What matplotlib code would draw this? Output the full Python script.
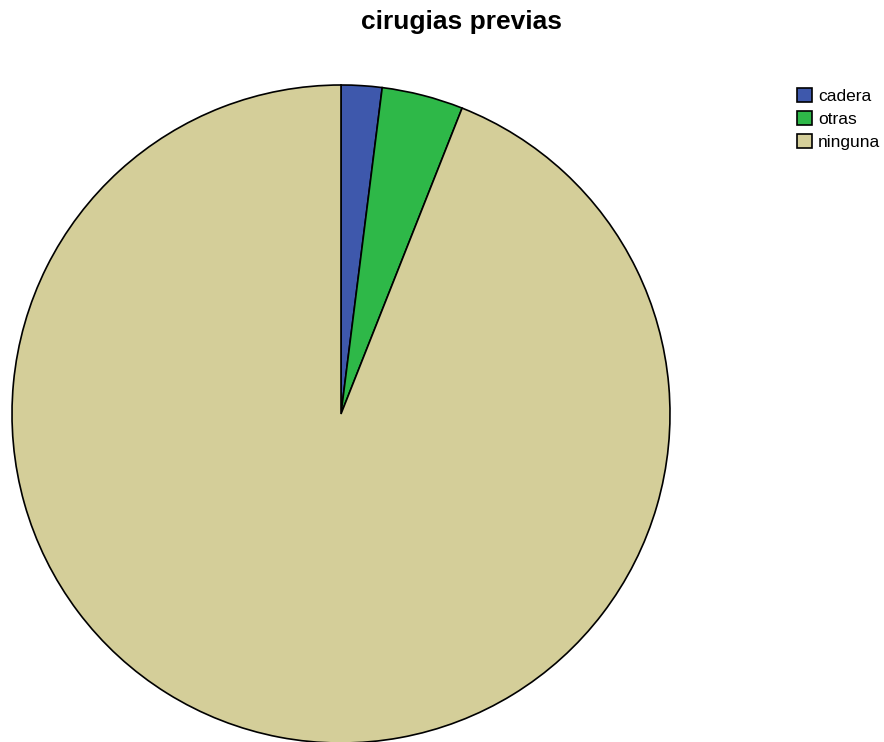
import matplotlib.pyplot as plt
from matplotlib.patches import Patch

plt.rcParams['font.family'] = ['Liberation Sans', 'DejaVu Sans']

# Previous surgeries, counts per category
labels = ['cadera', 'otras', 'ninguna']
counts = [1, 2, 47]
colors = ['#3E58AC', '#2EB848', '#D4CE99']

fig = plt.figure(figsize=(8.84, 7.42), dpi=100)
ax = fig.add_axes([12 / 884, -1 / 742, 658 / 884, 658 / 742])

ax.pie(counts, colors=colors, startangle=90, counterclock=False,
       wedgeprops=dict(edgecolor='black', linewidth=1.2), radius=1.0)
ax.set_xlim(-1.0, 1.0)
ax.set_ylim(-1.0, 1.0)
ax.set_aspect('equal')
ax.axis('off')

fig.text(461 / 884, 1 - 22 / 742, 'cirugias previas', ha='center', va='center',
         fontsize=19, fontweight='bold')

handles = [Patch(facecolor=c, edgecolor='black', linewidth=1.2) for c in colors]
fig.legend(handles, labels, loc='upper left', bbox_to_anchor=(797 / 884, 1 - 88 / 742),
           frameon=False, fontsize=12.5, handlelength=0.86, handleheight=0.86,
           handletextpad=0.35, labelspacing=0.4, borderaxespad=0, borderpad=0)

fig.savefig('out.png', dpi=100)
